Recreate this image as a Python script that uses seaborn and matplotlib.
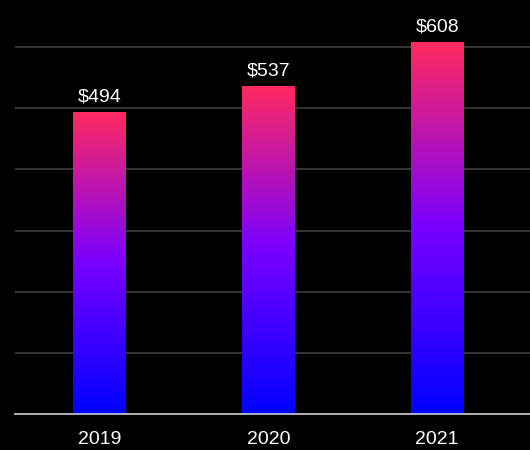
import numpy as np
import pandas as pd
import seaborn as sns
import matplotlib.pyplot as plt
from matplotlib.colors import LinearSegmentedColormap

#_____Data_____
years = ["2019", "2020", "2021"]
values = [494, 537, 608]

df = pd.DataFrame({"Year": years, "Value": values})

sns.set_style("dark")
plt.rcParams['font.family'] = ['Liberation Sans', 'DejaVu Sans']

fig = plt.figure(figsize=(5.3, 4.5), dpi=100, facecolor='black')
ax = fig.add_axes([15/530, 1 - 414/450, 1 - 15/530, 414/450])
ax.set_facecolor('black')

sns.barplot(data=df, x="Year", y="Value", ax=ax, width=0.31, color='blue')

#_____Gradient fill for each bar_____
cmap = LinearSegmentedColormap.from_list(
    "grad", [(0.0, "#0000ff"), (0.5, "#7800ff"), (1.0, "#ff2a5f")])
grad = np.linspace(0, 1, 256).reshape(-1, 1)
for bar in ax.patches:
    x0, y0 = bar.get_x(), bar.get_y()
    w, h = bar.get_width(), bar.get_height()
    bar.set_facecolor('none')
    bar.set_edgecolor('none')
    im = ax.imshow(grad, cmap=cmap, aspect='auto', origin='lower',
                   extent=[x0, x0 + w, y0, y0 + h], zorder=2)
    im.set_clip_path(bar)
    ax.text(x0 + w / 2, y0 + h + 10, f"${int(h)}", ha='center', va='bottom',
            color='white', fontsize=14, zorder=3)

ax.set_xlim(-0.5, 2.55)
ax.set_ylim(0, 414 / (367 / 600))

#_____Grid / axes styling_____
ax.set_yticks(range(0, 700, 100))
ax.set_yticklabels([])
ax.yaxis.grid(True, color='#3e3e3e', linewidth=1.2)
ax.xaxis.grid(False)
ax.set_axisbelow(True)
for s in ['top', 'right', 'left']:
    ax.spines[s].set_visible(False)
ax.spines['bottom'].set_color('#cccccc')
ax.spines['bottom'].set_linewidth(1.2)
ax.tick_params(axis='x', length=0, pad=12, colors='white', labelsize=14)
ax.tick_params(axis='y', length=0)
ax.set_xlabel("")
ax.set_ylabel("")

plt.savefig("out.png", dpi=100, facecolor='black')
